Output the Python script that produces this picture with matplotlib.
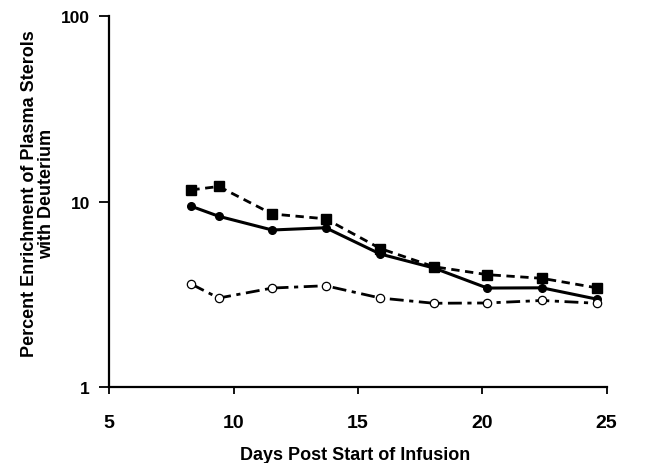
import numpy as np
import matplotlib.pyplot as plt

plt.rcParams['font.family'] = ['Liberation Sans', 'DejaVu Sans']
plt.rcParams['font.weight'] = 'bold'

days = [8.3, 9.4, 11.55, 13.7, 15.9, 18.05, 20.2, 22.4, 24.6]
squares = [11.6, 12.1, 8.6, 8.1, 5.6, 4.47, 4.05, 3.87, 3.44]
filled = [9.46, 8.36, 7.05, 7.25, 5.23, 4.40, 3.43, 3.44, 2.99]
hollow = [3.60, 3.03, 3.43, 3.53, 3.03, 2.84, 2.85, 2.94, 2.84]

xticks = [5, 10, 15, 20, 25]
yticks = [1, 10, 100]

fig = plt.figure(figsize=(6.68, 4.64), dpi=100)
ax = fig.add_axes([0.1636, 0.163, 0.7446, 0.7997])

ax.plot(days, squares, 'k--', lw=2.0, marker='s', ms=6.5, dashes=(3, 2))
ax.plot(days, filled, 'k-', lw=2.2, marker='o', ms=5.5)
ax.plot(days, hollow, 'k-.', lw=2.0, marker='o', ms=6, mfc='white', mew=0.9,
        dashes=(5, 2, 1.5, 2))

ax.set_yscale('log')
ax.set_xlim(5, 25)
ax.set_ylim(1, 100)
ax.set_xticks(xticks)
ax.set_xticklabels([str(t) for t in xticks])
ax.set_yticks(yticks)
ax.set_yticklabels([str(t) for t in yticks])
ax.yaxis.set_minor_locator(plt.NullLocator())

for s in ['top', 'right']:
    ax.spines[s].set_visible(False)
for s in ['left', 'bottom']:
    ax.spines[s].set_linewidth(1.6)

ax.tick_params(axis='x', direction='out', length=5, width=1.3, pad=14, labelsize=14)
ax.tick_params(axis='y', direction='out', length=7, width=1.3, pad=7, labelsize=12.5)

fig.text(355.5 / 668, 4 / 464, 'Days Post Start of Infusion', fontsize=13,
         fontweight='bold', ha='center', va='baseline')
fig.text(38 / 668, 1 - 194 / 464, 'Percent Enrichment of Plasma Sterols\nwith Deuterium',
         fontsize=13, fontweight='bold', rotation=90, ha='center', va='center',
         linespacing=1.05)

fig.savefig('out.png', dpi=100)
